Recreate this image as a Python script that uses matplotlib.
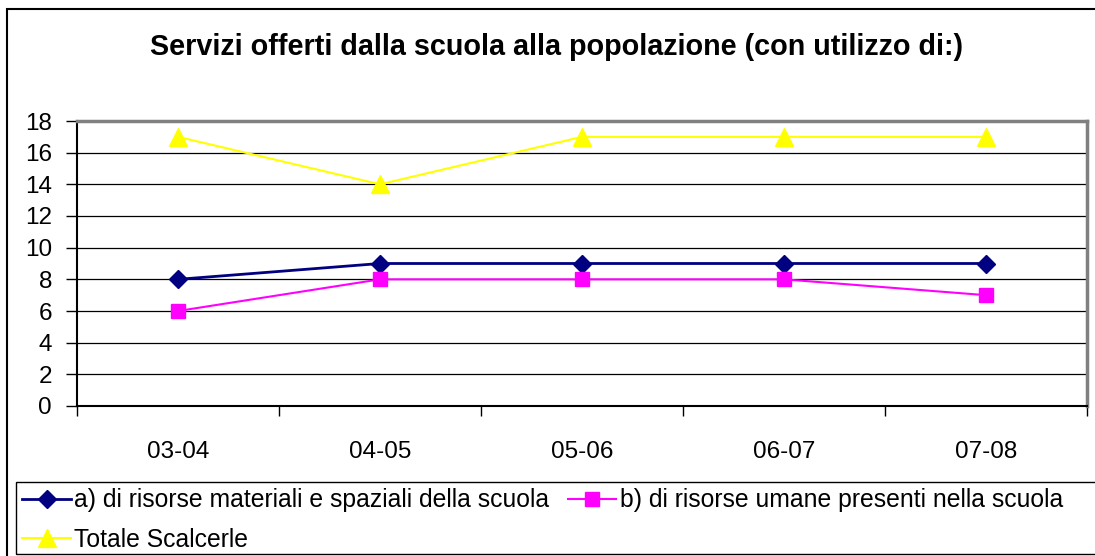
import matplotlib
matplotlib.use("Agg")
import matplotlib.pyplot as plt
from matplotlib.patches import Rectangle
import numpy as np

plt.rcParams['font.family'] = ['Liberation Sans', 'DejaVu Sans']

years = ['03-04', '04-05', '05-06', '06-07', '07-08']
risorse_materiali = [8, 9, 9, 9, 9]
risorse_umane = [6, 8, 8, 8, 7]
totale = [17, 14, 17, 17, 17]

W, H = 1095, 556
fig = plt.figure(figsize=(W / 100, H / 100), dpi=100)

# outer chart frame (cut off at right and bottom)
fig.patches.append(Rectangle((7 / W, -0.1), 1.2, (H - 9) / H + 0.1,
                             transform=fig.transFigure, fill=False,
                             edgecolor='black', linewidth=1.5))

ax = fig.add_axes([77 / W, (H - 406) / H, 1010 / W, (406 - 121) / H])
x = np.arange(len(years))

ax.plot(x, risorse_materiali, color='#000080', linewidth=2, marker='D',
        markersize=9, label='a) di risorse materiali e spaziali della scuola')
ax.plot(x, risorse_umane, color='#FF00FF', linewidth=1.5, marker='s',
        markersize=10, label='b) di risorse umane presenti nella scuola')
ax.plot(x, totale, color='#FFFF00', linewidth=1.5, marker='^',
        markersize=13, label='Totale Scalcerle')

ax.set_xlim(-0.5, 4.5)
ax.set_ylim(0, 18)
ax.set_yticks(range(0, 19, 2))
ax.yaxis.grid(True, color='black', linewidth=0.9)
ax.set_axisbelow(True)
ax.tick_params(axis='y', labelsize=17.5, length=8, width=1, pad=10)

ax.set_xticks(x)
ax.set_xticklabels(years)
ax.set_xticks(np.arange(-0.5, 5, 1), minor=True)
ax.tick_params(axis='x', which='major', length=0, labelsize=17.5, pad=25)
ax.tick_params(axis='x', which='minor', length=7, width=1)

for s in ['left', 'bottom']:
    ax.spines[s].set_linewidth(1.5)
for s in ['top', 'right']:
    ax.spines[s].set_color('#808080')
    ax.spines[s].set_linewidth(2.5)

fig.text(557 / W, 1 - 47 / H,
         'Servizi offerti dalla scuola alla popolazione (con utilizzo di:)',
         ha='center', va='center', fontsize=20.7, fontweight='bold')

# legend box
fig.patches.append(Rectangle((16 / W, (H - 554) / H), 1.2, (554 - 482) / H,
                             transform=fig.transFigure, fill=False,
                             edgecolor='black', linewidth=1))
handles, labels = ax.get_legend_handles_labels()
order = [0, 2, 1]
fig.legend([handles[i] for i in order], [labels[i] for i in order],
           ncol=2, frameon=False, loc='upper left',
           bbox_to_anchor=(20 / W, 1 - 486 / H), fontsize=17.8,
           handlelength=1.95, handletextpad=0.15, columnspacing=0.75,
           labelspacing=0.62, borderaxespad=0, borderpad=0.1)

fig.savefig('out.png', dpi=100)
